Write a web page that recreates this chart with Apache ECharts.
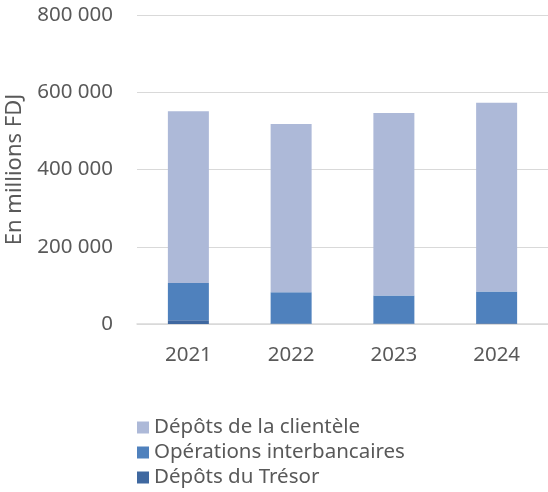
<!DOCTYPE html>
<html>
<head>
<meta charset="utf-8">
<script src="https://cdn.jsdelivr.net/npm/echarts@6/dist/echarts.min.js"></script>
<style>
  html, body { margin: 0; padding: 0; background: #fff; }
  #chart { width: 548px; height: 492px; }
</style>
</head>
<body>
<div id="chart"></div>
<script>
// données (en millions FDJ)
const years = ['2021', '2022', '2023', '2024'];
const depotsTresor = [10000, 1000, 1000, 2000];
const operationsInterbancaires = [96000, 81000, 73000, 82000];
const depotsClientele = [445000, 436000, 472000, 489000];
const yTicks = [0, 200000, 400000, 600000, 800000];

const fmt = v => String(v).replace(/\B(?=(\d{3})+(?!\d))/g, ' ');
const font = '"Noto Sans", sans-serif';

const chart = echarts.init(document.getElementById('chart'));

const bar = (name, data, color) => ({
  name, type: 'bar', stack: 'total', data, barWidth: 41,
  itemStyle: { color }
});

chart.setOption({
  animation: false,
  textStyle: { fontFamily: font },
  grid: { left: 137, right: 0, top: 15, bottom: 168, outerBoundsMode: 'none', containLabel: false },
  legend: {
    orient: 'vertical',
    left: 132, top: 412, height: 90,
    itemWidth: 12, itemHeight: 12, itemGap: 4,
    icon: 'rect',
    textStyle: { fontSize: 20.5, lineHeight: 20, color: '#595959', fontFamily: font },
    data: ['Dépôts de la clientèle', 'Opérations interbancaires', 'Dépôts du Trésor']
  },
  xAxis: {
    type: 'category', data: years,
    axisLine: { lineStyle: { color: '#d9d9d9', width: 1.5 } },
    axisTick: { show: false },
    axisLabel: { color: '#595959', fontSize: 20.5, margin: 21 }
  },
  yAxis: {
    type: 'value', min: yTicks[0], max: yTicks[yTicks.length - 1], interval: 200000,
    name: 'En millions FDJ', nameLocation: 'middle', nameGap: 111, nameRotate: 90,
    nameTextStyle: { color: '#595959', fontSize: 22 },
    axisLine: { show: false }, axisTick: { show: false },
    axisLabel: { color: '#595959', fontSize: 20.5, margin: 24, formatter: fmt },
    splitLine: { lineStyle: { color: '#d9d9d9', width: 1 } }
  },
  series: [
    bar('Dépôts du Trésor', depotsTresor, '#3f68a0'),
    bar('Opérations interbancaires', operationsInterbancaires, '#4f81bd'),
    bar('Dépôts de la clientèle', depotsClientele, '#adb9d8')
  ]
});
</script>
</body>
</html>
